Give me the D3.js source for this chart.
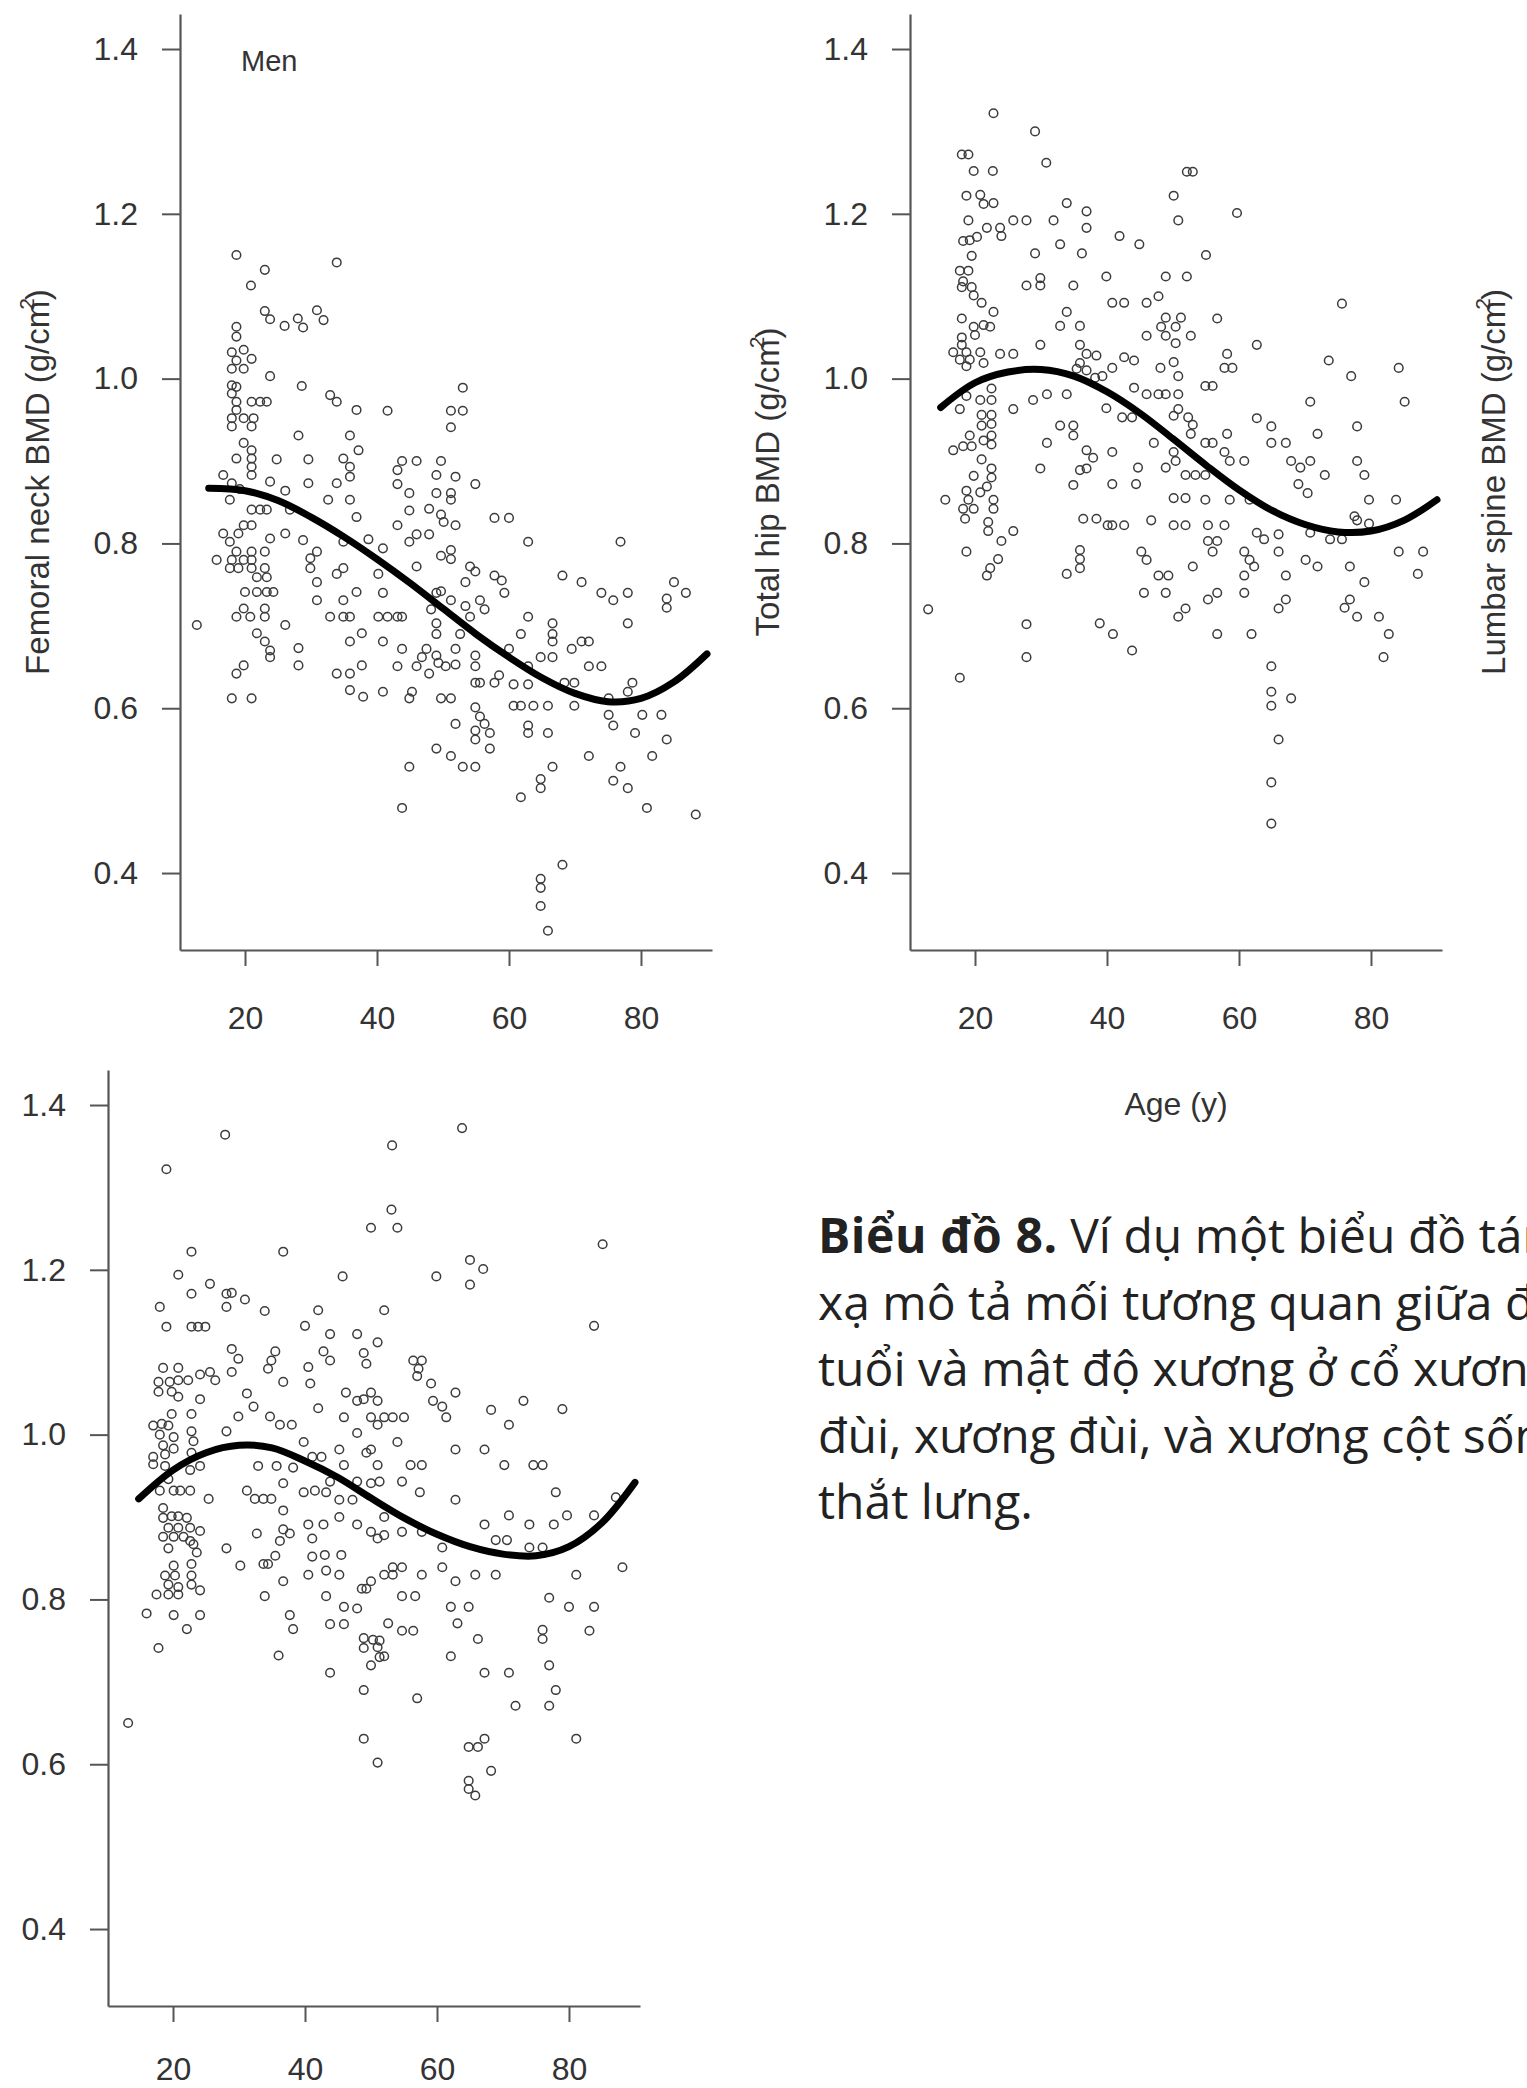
<!DOCTYPE html>
<html>
<head>
<meta charset="utf-8">
<script src="https://cdn.jsdelivr.net/npm/d3@7"></script>
<style>
  html, body { margin: 0; padding: 0; background: #fff; }
  svg { display: block; }
</style>
</head>
<body>
<svg id="fig" width="1527" height="2088"></svg>
<script>
// Axis ticks shared by the three panels
const xTicks = [20, 40, 60, 80];
const yTicks = [0.4, 0.6, 0.8, 1.0, 1.2, 1.4];
const ageDomain = [10.15, 90.76];
const bmdDomain = [0.3066, 1.4425];

// Femoral neck BMD: [age (y), BMD (g/cm2)]
const neckPoints = [
[18.7,1.150],[33.9,1.141],[23.0,1.132],[20.9,1.113],[23.0,1.082],[23.8,1.072],[26.0,1.064],[28.0,1.073],[28.8,1.062],[30.9,1.083],[31.9,1.071],
[18.7,1.063],[18.7,1.051],[18.0,1.032],[19.8,1.035],[18.7,1.022],[21.0,1.024],[18.0,1.012],[19.8,1.012],[23.8,1.003],[18.0,0.992],[18.7,0.990],[18.0,0.982],[28.6,0.991],[32.9,0.980],[33.9,0.972],[36.9,0.962],
[18.7,0.972],[21.0,0.972],[22.3,0.972],[23.3,0.972],[18.7,0.962],[18.0,0.952],[19.8,0.952],[21.3,0.952],[18.0,0.942],[21.0,0.942],[28.1,0.931],[35.9,0.931],
[19.8,0.922],[21.0,0.913],[18.7,0.903],[21.0,0.903],[24.8,0.902],[29.6,0.902],[34.9,0.903],[37.2,0.913],[21.0,0.893],[35.9,0.893],[21.0,0.883],[35.9,0.881],[16.7,0.883],
[18.0,0.873],[23.8,0.875],[29.6,0.873],[33.9,0.873],[19.2,0.866],[26.1,0.864],[17.7,0.853],[26.8,0.841],[32.6,0.853],[35.9,0.853],[21.0,0.841],[22.3,0.841],[23.3,0.841],[36.9,0.832],
[19.8,0.822],[21.0,0.822],[16.7,0.812],[19.0,0.812],[17.7,0.802],[23.8,0.806],[26.1,0.812],[28.8,0.804],[34.9,0.802],
[18.7,0.790],[21.0,0.790],[23.0,0.790],[30.9,0.790],[15.7,0.780],[18.0,0.780],[19.8,0.780],[21.0,0.780],[29.9,0.782],
[17.7,0.770],[19.0,0.770],[21.0,0.770],[23.0,0.770],[29.9,0.770],[33.9,0.763],[34.9,0.770],[21.8,0.759],[23.3,0.759],[30.9,0.753],
[20.0,0.741],[21.8,0.741],[23.3,0.741],[24.3,0.741],[36.9,0.741],[30.9,0.731],[34.9,0.731],[19.8,0.721],[18.7,0.711],[20.8,0.711],[23.0,0.721],[23.0,0.711],[32.9,0.711],[34.9,0.711],[35.9,0.711],
[12.7,0.701],[26.1,0.701],[21.8,0.691],[23.0,0.681],[23.8,0.670],[23.8,0.662],[35.9,0.681],[37.7,0.691],[28.1,0.673],[28.1,0.652],[19.8,0.652],[18.7,0.642],[33.9,0.642],[35.9,0.642],[37.7,0.652],[35.9,0.622],[37.9,0.614],[18.0,0.612],[21.0,0.612],
[41.6,0.961],[53.0,0.989],[51.2,0.961],[53.0,0.961],[51.2,0.941],[49.7,0.900],[46.0,0.900],[43.8,0.900],[43.1,0.889],[49.0,0.883],[51.9,0.881],[54.9,0.872],[43.1,0.872],[44.9,0.861],[49.0,0.861],[51.2,0.861],[51.2,0.853],[47.9,0.842],[49.7,0.835],[57.8,0.831],[60.0,0.831],[44.9,0.840],
[43.1,0.822],[50.1,0.826],[51.9,0.822],[46.0,0.811],[47.9,0.811],[62.9,0.802],[76.9,0.802],[38.7,0.805],[40.9,0.794],[44.9,0.802],[51.2,0.792],[49.7,0.785],[51.2,0.781],[46.0,0.772],[54.1,0.772],[68.1,0.761],[54.9,0.766],[40.2,0.763],[57.8,0.761],[58.9,0.755],[71.0,0.753],[85.0,0.753],[53.4,0.753],
[40.9,0.740],[49.0,0.740],[49.7,0.742],[51.2,0.731],[53.4,0.724],[55.6,0.731],[59.3,0.740],[74.0,0.740],[75.8,0.731],[78.0,0.740],[83.9,0.733],[83.9,0.722],[86.8,0.740],[56.3,0.720],
[43.1,0.711],[43.8,0.711],[40.2,0.711],[41.6,0.711],[48.2,0.720],[49.0,0.703],[54.1,0.711],[62.9,0.711],[66.6,0.703],[78.0,0.703],
[49.0,0.690],[61.8,0.690],[66.6,0.690],[52.6,0.690],[40.9,0.681],[43.8,0.672],[47.5,0.672],[51.9,0.672],[60.0,0.672],[66.6,0.681],[69.5,0.672],[71.0,0.681],[72.1,0.681],
[49.0,0.664],[46.8,0.662],[49.3,0.655],[50.4,0.651],[51.9,0.653],[54.9,0.651],[62.9,0.651],[64.8,0.662],[66.6,0.662],[72.1,0.651],[74.0,0.651],[54.9,0.664],[43.1,0.651],[46.0,0.651],
[47.9,0.642],[54.9,0.631],[55.6,0.631],[58.5,0.640],[60.7,0.629],[62.9,0.629],[68.4,0.631],[69.9,0.631],[78.7,0.631],[57.8,0.631],
[40.9,0.620],[45.3,0.620],[44.9,0.612],[78.0,0.620],[69.9,0.603],[49.7,0.612],[51.2,0.612],[60.7,0.603],[61.8,0.603],[63.7,0.603],[65.9,0.603],[75.1,0.612],
[54.9,0.601],[55.6,0.590],[75.1,0.592],[80.2,0.592],[83.1,0.592],[75.8,0.579],[51.9,0.581],[54.9,0.573],[57.1,0.570],[56.3,0.581],[62.9,0.579],[62.9,0.570],[65.9,0.570],[79.1,0.570],
[54.9,0.562],[57.1,0.551],[49.0,0.551],[51.2,0.542],[83.9,0.562],[72.1,0.542],[81.7,0.542],[44.9,0.529],[53.0,0.529],[54.9,0.529],[66.6,0.529],[76.9,0.529],
[64.8,0.514],[64.8,0.503],[75.8,0.512],[78.0,0.503],[61.8,0.492],[43.8,0.479],[80.9,0.479],[88.3,0.471],
[68.1,0.410],[64.8,0.393],[64.8,0.382],[64.8,0.360],[65.9,0.330]
];

// Total hip BMD: [age (y), BMD (g/cm2)]
const hipPoints = [
[22.8,1.322],[29.1,1.300],[30.8,1.262],[18.0,1.272],[19.0,1.272],[19.8,1.252],[22.7,1.252],[18.7,1.222],[20.8,1.223],[21.3,1.212],[22.8,1.213],[33.9,1.213],[36.9,1.203],[36.9,1.183],[19.0,1.192],[21.8,1.183],[23.8,1.183],[24.0,1.173],[25.8,1.192],[27.8,1.192],[31.9,1.192],[32.9,1.163],[36.2,1.152],[18.2,1.167],[19.2,1.168],[20.3,1.172],[19.5,1.149],[29.1,1.152],[17.7,1.131],[19.0,1.131],[18.2,1.118],[18.0,1.111],[19.5,1.111],[27.8,1.113],[29.9,1.122],[29.9,1.113],[34.9,1.113],[19.8,1.101],[21.0,1.092],[22.8,1.081],[33.9,1.081],[18.0,1.073],[19.8,1.063],[21.3,1.065],[22.3,1.063],[32.9,1.064],[35.9,1.064],[18.0,1.050],[20.0,1.053],[16.7,1.032],[18.0,1.041],[18.7,1.032],[19.2,1.023],[20.8,1.032],[17.7,1.023],[18.7,1.015],[21.3,1.019],[23.8,1.030],[25.8,1.030],[29.9,1.041],[35.9,1.041],[36.9,1.030],[35.9,1.019],[36.9,1.010],[38.2,1.001],[38.4,1.028],[35.4,1.012],
[18.7,0.979],[17.7,0.963],[20.8,0.974],[22.5,0.988],[22.5,0.974],[25.8,0.963],[28.8,0.974],[30.9,0.981],[33.9,0.981],[21.0,0.956],[22.5,0.956],[22.5,0.945],[21.0,0.943],[19.2,0.931],[22.5,0.931],[16.7,0.913],[18.2,0.918],[19.5,0.918],[21.3,0.925],[22.5,0.920],[32.9,0.943],[34.9,0.943],[34.9,0.931],[30.9,0.922],[36.9,0.913],[37.9,0.904],[36.9,0.891],[29.9,0.891],[21.0,0.902],[22.5,0.891],[19.8,0.882],[22.5,0.880],[21.8,0.869],[18.7,0.864],[20.8,0.862],[15.5,0.853],[19.0,0.853],[22.8,0.853],[18.2,0.842],[19.8,0.842],[22.8,0.842],[18.5,0.830],[22.0,0.826],[36.4,0.830],[38.4,0.830],[35.9,0.889],[34.9,0.871],[22.0,0.815],[24.0,0.803],[25.8,0.815],[18.7,0.790],[23.5,0.781],[22.3,0.770],[21.8,0.761],[35.9,0.792],[35.9,0.781],[35.9,0.770],[33.9,0.763],[12.9,0.720],[27.8,0.702],[27.8,0.662],[17.7,0.637],
[41.9,1.173],[44.9,1.163],[39.9,1.124],[48.9,1.124],[52.1,1.124],[52.1,1.251],[53.0,1.251],[50.1,1.222],[50.8,1.192],[59.7,1.201],[55.0,1.150],[40.8,1.092],[42.6,1.092],[46.0,1.092],[47.8,1.100],[56.7,1.073],[75.6,1.091],[48.9,1.074],[51.2,1.074],[50.4,1.063],[48.2,1.063],[46.0,1.052],[48.9,1.052],[52.7,1.052],[50.4,1.043],[62.7,1.041],[42.6,1.026],[44.1,1.022],[58.2,1.030],[50.1,1.020],[59.0,1.013],[57.8,1.013],[73.6,1.022],[84.2,1.013],[77.0,1.003],[40.8,1.013],[48.1,1.013],[50.8,1.003],[39.3,1.003],[54.9,0.991],[56.0,0.991],[44.1,0.989],[46.0,0.981],[47.8,0.981],[48.9,0.981],[50.8,0.981],[70.8,0.972],[85.1,0.972],[39.9,0.964],[42.3,0.953],[43.8,0.953],[50.8,0.963],[50.1,0.955],[52.3,0.953],[53.0,0.944],[62.7,0.952],[64.9,0.942],[77.9,0.942],[47.1,0.922],[50.1,0.911],[52.7,0.933],[54.9,0.922],[56.0,0.922],[58.2,0.933],[64.9,0.922],[67.1,0.922],[71.9,0.933],[40.8,0.911],[44.7,0.892],[50.4,0.900],[48.9,0.892],[51.9,0.883],[53.4,0.883],[54.9,0.883],[57.8,0.911],[58.6,0.900],[60.8,0.900],[67.9,0.900],[69.3,0.892],[70.8,0.900],[77.9,0.900],[69.0,0.872],[70.4,0.861],[73.0,0.883],[79.0,0.883],[40.8,0.872],[44.4,0.872],[50.1,0.855],[51.9,0.855],[54.9,0.853],[58.6,0.853],[61.6,0.853],[79.7,0.853],[83.8,0.853],[77.5,0.833],
[40.1,0.822],[40.8,0.822],[42.6,0.822],[46.7,0.828],[50.1,0.822],[51.9,0.822],[55.3,0.822],[57.8,0.822],[62.7,0.813],[63.8,0.805],[66.0,0.811],[66.0,0.790],[70.8,0.813],[73.8,0.805],[75.6,0.805],[77.9,0.828],[79.7,0.824],[45.2,0.790],[46.0,0.780],[55.3,0.803],[56.7,0.803],[56.0,0.790],[60.8,0.790],[61.6,0.780],[62.3,0.772],[70.1,0.780],[71.9,0.772],[76.8,0.772],[84.2,0.790],[87.9,0.790],[87.1,0.763],[79.0,0.753],[47.8,0.761],[49.3,0.761],[53.0,0.772],[60.8,0.761],[67.1,0.761],[76.8,0.732],[76.0,0.722],[77.9,0.711],[81.2,0.711],[82.7,0.690],[81.9,0.662],[45.6,0.740],[48.9,0.740],[55.3,0.732],[56.7,0.740],[60.8,0.740],[67.1,0.732],[66.0,0.721],[50.8,0.711],[51.9,0.721],[40.9,0.690],[56.7,0.690],[61.9,0.690],[43.8,0.670],[64.9,0.651],[64.9,0.620],[67.9,0.612],[64.9,0.603],[66.0,0.562],[64.9,0.510],[64.9,0.460],[38.9,0.703]
];

// Lumbar spine BMD: [age (y), BMD (g/cm2)]
const spinePoints = [
[19.0,1.322],[22.8,1.222],[36.7,1.222],[20.8,1.194],[25.6,1.183],[22.8,1.171],[28.1,1.171],[28.9,1.172],[30.9,1.164],[28.1,1.155],[33.9,1.150],[18.0,1.155],[19.0,1.131],[22.8,1.131],[23.8,1.131],[24.9,1.131],[28.9,1.104],[29.9,1.092],[35.5,1.101],[34.9,1.090],[34.4,1.080],[18.5,1.081],[20.8,1.081],[17.8,1.064],[19.5,1.064],[20.8,1.066],[22.3,1.066],[24.1,1.073],[25.6,1.076],[26.4,1.066],[28.9,1.076],[36.7,1.064],[17.8,1.052],[19.8,1.052],[20.8,1.046],[24.1,1.043],[31.2,1.050],[32.2,1.034],[29.9,1.022],[34.7,1.022],[36.2,1.012],[38.0,1.012],[19.8,1.025],[22.8,1.025],[17.0,1.011],[18.3,1.013],[19.3,1.011],[18.0,1.000],[20.1,0.997],[22.8,1.004],[23.1,0.992],[18.5,0.987],[20.1,0.983],[17.0,0.973],[18.8,0.976],[22.8,0.978],[28.1,1.004],[32.9,0.962],[35.7,0.962],[17.0,0.964],[18.8,0.962],[24.1,0.962],[22.6,0.957],[19.3,0.946],[18.0,0.932],[20.1,0.932],[21.1,0.932],[22.6,0.932],[25.4,0.922],[31.2,0.932],[32.4,0.922],[33.7,0.922],[34.9,0.922],[36.7,0.941],[38.2,0.960],[18.5,0.911],[18.5,0.899],[19.8,0.901],[20.8,0.901],[22.1,0.899],[19.3,0.887],[20.8,0.887],[22.6,0.887],[18.5,0.876],[20.1,0.876],[21.6,0.876],[24.1,0.883],[22.6,0.871],[19.3,0.862],[23.6,0.857],[23.1,0.867],[28.1,0.862],[32.7,0.880],[36.7,0.908],[36.7,0.885],[36.2,0.871],[37.7,0.880],[35.5,0.853],[34.4,0.843],[33.7,0.843],[30.2,0.841],[20.1,0.841],[22.8,0.843],[18.8,0.829],[20.3,0.829],[22.8,0.829],[19.3,0.818],[22.8,0.818],[17.5,0.806],[19.3,0.806],[20.8,0.815],[20.8,0.806],[24.1,0.811],[33.9,0.804],[16.0,0.783],[20.1,0.781],[24.1,0.781],[22.1,0.764],[36.7,0.822],[37.7,0.781],[38.2,0.764],[17.8,0.741],[36.0,0.732],[13.2,0.650],
[27.9,1.364],
[45.7,1.192],[40.0,1.132],[42.0,1.151],[43.8,1.122],[47.9,1.122],[51.0,1.112],[50.0,1.251],[53.1,1.273],[54.0,1.251],[53.2,1.351],[63.8,1.372],[85.1,1.231],[83.8,1.132],[65.0,1.212],[67.0,1.201],[59.9,1.192],[65.0,1.182],[52.0,1.151],[56.4,1.090],[57.7,1.090],[57.2,1.080],[57.0,1.071],[59.1,1.062],[62.8,1.051],[61.4,1.021],[59.4,1.041],[60.8,1.034],[49.3,1.086],[48.9,1.099],[42.8,1.101],[43.8,1.090],[40.5,1.082],[40.8,1.062],[42.0,1.032],[46.2,1.051],[47.9,1.041],[50.0,1.051],[51.0,1.041],[48.9,1.043],[50.0,1.021],[52.0,1.021],[53.3,1.021],[55.0,1.021],[51.0,1.012],[47.9,1.002],[45.9,1.021],[68.2,1.030],[70.9,1.012],[73.1,1.041],[79.0,1.031],
[41.1,0.973],[42.5,0.973],[45.2,0.982],[45.9,0.963],[39.8,0.991],[43.8,0.943],[47.9,0.943],[49.3,0.978],[50.0,0.982],[51.0,0.963],[54.0,0.991],[62.8,0.982],[67.2,0.982],[70.2,0.963],[74.6,0.963],[76.0,0.963],[51.3,0.943],[50.0,0.941],[54.7,0.943],[56.0,0.963],[57.7,0.963],[57.4,0.930],[78.0,0.930],[39.8,0.930],[41.5,0.932],[43.2,0.930],[45.2,0.921],[47.2,0.921],[42.8,0.891],[45.2,0.900],[47.9,0.891],[50.0,0.882],[51.0,0.874],[52.0,0.878],[52.0,0.900],[54.7,0.882],[57.7,0.882],[60.8,0.863],[62.8,0.921],[67.2,0.891],[70.9,0.902],[74.0,0.891],[77.7,0.891],[79.7,0.902],[83.8,0.902],[87.1,0.924],[68.9,0.872],[70.6,0.872],[74.0,0.863],[76.0,0.863],[41.1,0.852],[43.0,0.854],[45.5,0.854],[41.1,0.874],[40.5,0.891],
[40.5,0.830],[43.2,0.835],[45.2,0.830],[50.0,0.822],[52.0,0.830],[53.3,0.839],[54.7,0.839],[53.3,0.830],[54.7,0.804],[56.7,0.804],[57.7,0.830],[60.8,0.839],[62.8,0.822],[65.8,0.830],[68.9,0.830],[81.1,0.830],[88.1,0.839],[43.2,0.804],[45.9,0.791],[47.9,0.789],[48.6,0.813],[49.3,0.813],[62.1,0.791],[64.8,0.791],[77.0,0.802],[80.0,0.791],[83.8,0.791],
[43.8,0.770],[45.9,0.770],[43.8,0.711],[48.9,0.690],[50.0,0.720],[51.0,0.742],[51.3,0.730],[52.0,0.731],[48.9,0.753],[48.9,0.741],[50.3,0.751],[51.3,0.750],[52.6,0.771],[54.7,0.762],[56.4,0.762],[57.0,0.680],[62.1,0.731],[63.1,0.771],[66.2,0.752],[67.2,0.711],[70.9,0.711],[71.9,0.671],[76.0,0.763],[76.0,0.752],[77.0,0.720],[78.0,0.690],[77.0,0.671],[83.1,0.762],
[48.9,0.631],[51.0,0.602],[64.8,0.621],[66.2,0.621],[67.2,0.631],[68.2,0.592],[64.8,0.580],[64.8,0.570],[65.8,0.562],[81.1,0.631]
];

// Smoothed age trends drawn as the thick black curves
const neckFit = [[14.5,0.867],[20,0.864],[25,0.852],[30,0.832],[35,0.808],[40,0.781],[45,0.752],[50,0.721],[55,0.690],[60,0.662],[65,0.637],[70,0.618],[75,0.608],[80,0.612],[85,0.632],[90,0.666]];
const hipFit = [[14.8,0.965],[20,0.995],[25,1.008],[30,1.011],[35,1.003],[40,0.984],[45,0.958],[50,0.927],[55,0.895],[60,0.865],[65,0.840],[70,0.823],[75,0.814],[80,0.815],[85,0.828],[90,0.853]];
const spineFit = [[14.8,0.922],[20,0.957],[25,0.978],[30,0.987],[35,0.984],[40,0.968],[45,0.948],[50,0.923],[55,0.899],[60,0.879],[65,0.864],[70,0.855],[75,0.853],[80,0.864],[85,0.893],[90,0.942]];

const captionLines = [
  { bold: "Biểu đồ 8.", rest: " Ví dụ một biểu đồ tán" },
  { bold: "", rest: "xạ mô tả mối tương quan giữa độ" },
  { bold: "", rest: "tuổi và mật độ xương ở cổ xương" },
  { bold: "", rest: "đùi, xương đùi, và xương cột sống" },
  { bold: "", rest: "thắt lưng." }
];

const FONT = "'Liberation Sans', Arial, Helvetica, sans-serif";
const AXIS_COLOR = "#555";
const TEXT_COLOR = "#333";
const PW = 532, PH = 936;

const x = d3.scaleLinear().domain(ageDomain).range([0, PW]);
const y = d3.scaleLinear().domain(bmdDomain).range([PH, 0]);

const svg = d3.select("#fig");
svg.append("rect").attr("width", 1527).attr("height", 2088).attr("fill", "#fff");

// labelPad: gap between the x tick marks and the age labels
const panels = [
  { left: 180, top: 14, points: neckPoints, fit: neckFit, title: "Femoral neck BMD", labelPad: 40 },
  { left: 910, top: 14, points: hipPoints, fit: hipFit, title: "Total hip BMD", labelPad: 40 },
  { left: 108, top: 1070, points: spinePoints, fit: spineFit, title: null, labelPad: 35 }
];

const line = d3.line()
  .x(d => x(d[0]))
  .y(d => y(d[1]))
  .curve(d3.curveCatmullRom.alpha(0.5));

function styleAxis(g) {
  g.select(".domain").attr("stroke", AXIS_COLOR).attr("stroke-width", 2.2);
  g.selectAll(".tick line").attr("stroke", AXIS_COLOR).attr("stroke-width", 2);
  g.selectAll(".tick text")
    .attr("fill", TEXT_COLOR)
    .attr("font-family", FONT)
    .attr("font-size", 32);
}

function bmdTitle(sel, label) {
  sel.append("tspan").text(label + " (g/cm");
  sel.append("tspan").attr("font-size", 21).attr("dx", -9).attr("dy", -15).text("2");
  sel.append("tspan").attr("dx", -2).attr("dy", 15).text(")");
}

panels.forEach(p => {
  const g = svg.append("g").attr("transform", `translate(${p.left},${p.top})`);

  g.append("g")
    .call(d3.axisLeft(y).tickValues(yTicks).tickSize(18).tickSizeOuter(0)
      .tickPadding(24).tickFormat(d3.format(".1f")))
    .call(styleAxis);

  g.append("g")
    .attr("transform", `translate(0,${PH})`)
    .call(d3.axisBottom(x).tickValues(xTicks).tickSize(16).tickSizeOuter(0)
      .tickPadding(p.labelPad).tickFormat(d3.format("d")))
    .call(styleAxis);

  g.append("g")
    .selectAll("circle")
    .data(p.points)
    .join("circle")
    .attr("cx", d => x(d[0]))
    .attr("cy", d => y(d[1]))
    .attr("r", 4.3)
    .attr("fill", "none")
    .attr("stroke", "#3c3c3c")
    .attr("stroke-width", 1.5);

  g.append("path")
    .datum(p.fit)
    .attr("d", line)
    .attr("fill", "none")
    .attr("stroke", "#000")
    .attr("stroke-width", 7)
    .attr("stroke-linecap", "round")
    .attr("stroke-linejoin", "round");

  if (p.title) {
    svg.append("text")
      .attr("transform", `translate(${p.left - 131},${p.top + PH / 2}) rotate(-90)`)
      .attr("text-anchor", "middle")
      .attr("font-family", FONT)
      .attr("font-size", 33)
      .attr("fill", TEXT_COLOR)
      .call(bmdTitle, p.title);
  }
});

// Axis title belonging to the lumbar spine panel
svg.append("text")
  .attr("transform", `translate(1505,${14 + PH / 2}) rotate(-90)`)
  .attr("text-anchor", "middle")
  .attr("font-family", FONT)
  .attr("font-size", 33)
  .attr("fill", TEXT_COLOR)
  .call(bmdTitle, "Lumbar spine BMD");

svg.append("text")
  .attr("x", 241).attr("y", 61)
  .attr("dominant-baseline", "central")
  .attr("font-family", FONT)
  .attr("font-size", 29)
  .attr("fill", TEXT_COLOR)
  .text("Men");

svg.append("text")
  .attr("x", 1176).attr("y", 1104)
  .attr("text-anchor", "middle")
  .attr("dominant-baseline", "central")
  .attr("font-family", FONT)
  .attr("font-size", 32)
  .attr("fill", TEXT_COLOR)
  .text("Age (y)");

// Figure caption
const cap = svg.append("g")
  .attr("font-family", "'Open Sans', 'Noto Sans', sans-serif")
  .attr("font-size", 48)
  .attr("fill", "#222");

captionLines.forEach((ln, i) => {
  const t = cap.append("text").attr("x", 818).attr("y", 1253 + i * 66.5);
  if (ln.bold) t.append("tspan").attr("font-weight", 700).attr("letter-spacing", 0.6).text(ln.bold);
  t.append("tspan").text(ln.rest);
});
</script>
</body>
</html>
